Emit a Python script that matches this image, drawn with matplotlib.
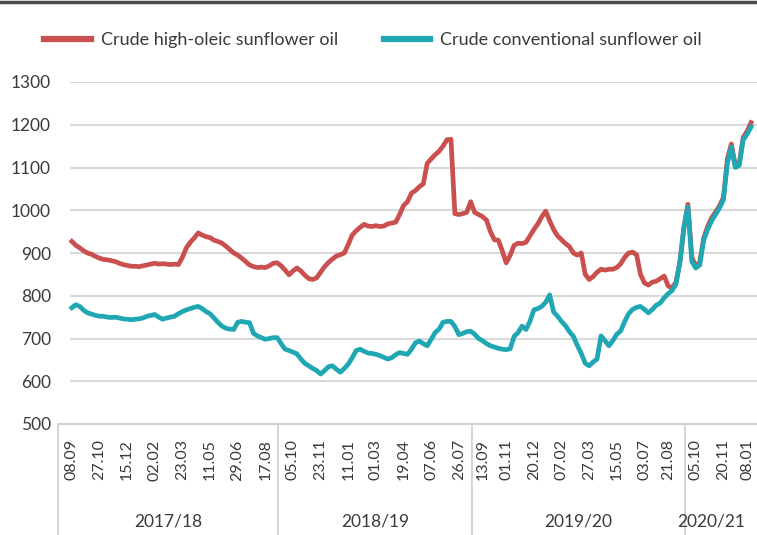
import matplotlib
matplotlib.use("Agg")
import matplotlib.pyplot as plt
import matplotlib.transforms as mtransforms
from matplotlib.lines import Line2D

# ---------------- data ----------------
high_oleic = [927, 918, 912, 905, 900, 897, 892, 888, 885, 884, 882, 880, 876, 873, 871, 869, 869, 868, 870, 872,
              874, 876, 874, 875, 874, 873, 874, 873, 890, 912, 925, 935, 947, 942, 938, 936, 930, 927, 923, 916,
              908, 900, 895, 888, 880, 872, 868, 866, 867, 866, 870, 876, 877, 870, 860, 849, 858, 865, 858, 848,
              840, 838, 842, 855, 868, 878, 886, 893, 896, 900, 920, 942, 952, 960, 967, 963, 962, 964, 962, 963,
              968, 970, 972, 990, 1011, 1020, 1040, 1046, 1055, 1062, 1110, 1120, 1130, 1138, 1150, 1165, 1166, 992, 990, 992,
              995, 1020, 995, 990, 985, 977, 950, 931, 930, 905, 877, 895, 918, 923, 922, 925, 940, 955, 968, 985,
              998, 975, 955, 940, 931, 922, 915, 900, 895, 900, 850, 838, 845, 855, 862, 860, 862, 862, 866, 875,
              890, 900, 902, 896, 850, 830, 825, 832, 834, 840, 846, 823, 818, 832, 880, 960, 1014, 890, 869, 878,
              935, 962, 982, 996, 1010, 1030, 1120, 1155, 1105, 1110, 1170, 1185, 1205]

conventional = [772, 779, 775, 766, 760, 757, 754, 752, 752, 750, 749, 750, 748, 746, 745, 744, 745, 746, 748, 752,
                754, 756, 750, 745, 748, 750, 752, 758, 763, 767, 770, 773, 775, 770, 763, 758, 748, 738, 729, 724,
                722, 721, 738, 740, 738, 737, 712, 706, 702, 698, 700, 702, 702, 688, 675, 672, 668, 664, 652, 642,
                636, 630, 625, 617, 625, 634, 636, 628, 621, 630, 640, 655, 672, 675, 670, 666, 665, 663, 660, 656,
                652, 655, 662, 667, 665, 663, 675, 690, 694, 688, 683, 698, 714, 722, 738, 740, 740, 728, 709, 712,
                716, 717, 710, 700, 695, 688, 683, 680, 677, 675, 674, 676, 705, 714, 729, 721, 740, 767, 770, 775,
                785, 802, 762, 752, 740, 730, 716, 705, 684, 665, 642, 636, 645, 652, 706, 695, 683, 695, 710, 718,
                740, 758, 768, 773, 775, 768, 760, 768, 778, 783, 795, 805, 812, 828, 880, 960, 1008, 880, 865, 872,
                930, 955, 975, 990, 1005, 1025, 1110, 1148, 1100, 1105, 1165, 1178, 1195]

tick_labels = ["08.09", "27.10", "15.12", "02.02", "23.03", "11.05", "29.06", "17.08",
               "05.10", "23.11", "11.01", "01.03", "19.04", "07.06", "26.07",
               "13.09", "01.11", "20.12", "07.02", "27.03", "15.05", "03.07", "21.08",
               "05.10", "20.11", "08.01"]
tick_index = [0, 7, 14, 21, 28, 35, 42, 49, 56, 63, 70, 77, 84, 91, 98,
              104, 110, 117, 124, 131, 138, 145, 151, 158, 165, 171]

seasons = ["2017/18", "2018/19", "2019/20", "2020/21"]
season_bounds = [-3.5, 52.3, 101.3, 155.3]
season_centers = [24.4, 76.8, 128.3, 162.0]

series_names = ["Crude high-oleic sunflower oil", "Crude conventional sunflower oil"]
yticks = [500, 600, 700, 800, 900, 1000, 1100, 1200, 1300]

# ---------------- style ----------------
RED = "#C9504F"
TEAL = "#1FA8B4"
FONT = ["Lato", "DejaVu Sans"]
plt.rcParams["font.family"] = FONT
TXT = "#3A3A3A"

fig = plt.figure(figsize=(7.57, 5.35), dpi=100)
ax = fig.add_axes([58 / 757, 1 - 424 / 535, 699 / 757, (424 - 82) / 535])

x = list(range(len(high_oleic)))
ax.set_xlim(-3.5, 173.5)
ax.set_ylim(500, 1300)

# gridlines (start at first category like reference)
ax.hlines(yticks[1:], -0.4, 173.5, colors="#D9D9D9", linewidth=1.5, zorder=1)
ax.hlines([500], -3.5, 173.5, colors="#C8C8C8", linewidth=1.2, zorder=1, clip_on=False)

ax.plot(x, conventional, color=TEAL, linewidth=3.4, solid_joinstyle="round", zorder=3)
ax.plot(x, high_oleic, color=RED, linewidth=3.4, solid_joinstyle="round", zorder=2)

for s in ax.spines.values():
    s.set_visible(False)

ax.set_yticks(yticks)
ax.set_yticklabels([str(v) for v in yticks], fontsize=12.5, color=TXT)
ax.tick_params(axis="y", length=0, pad=5)

ax.set_xticks(tick_index)
ax.set_xticklabels(tick_labels, rotation=90, fontsize=11.5, color=TXT, va="top")
ax.tick_params(axis="x", length=0, pad=11)

trans = mtransforms.blended_transform_factory(ax.transData, ax.transAxes)
for b in season_bounds:
    ax.add_line(Line2D([b, b], [0, -0.33], transform=trans, color="#D0D0D0",
                       linewidth=1.2, clip_on=False))
for name, c in zip(seasons, season_centers):
    ax.text(c, -0.285, name, transform=trans, ha="center", va="center",
            fontsize=12.5, color=TXT)

# legend
handles = [Line2D([], [], color=RED, linewidth=4.5),
           Line2D([], [], color=TEAL, linewidth=4.5)]
fig.legend(handles, series_names, loc="center left", bbox_to_anchor=(0.037, 0.925),
           ncol=2, frameon=False, fontsize=13, handlelength=2.6, handletextpad=0.55,
           columnspacing=2.5, labelcolor=TXT)

# top border line
fig.add_artist(Line2D([0, 1], [0.997, 0.997], transform=fig.transFigure,
                      color="#4A4A4A", linewidth=2.5))

fig.savefig("out.png", dpi=100)
